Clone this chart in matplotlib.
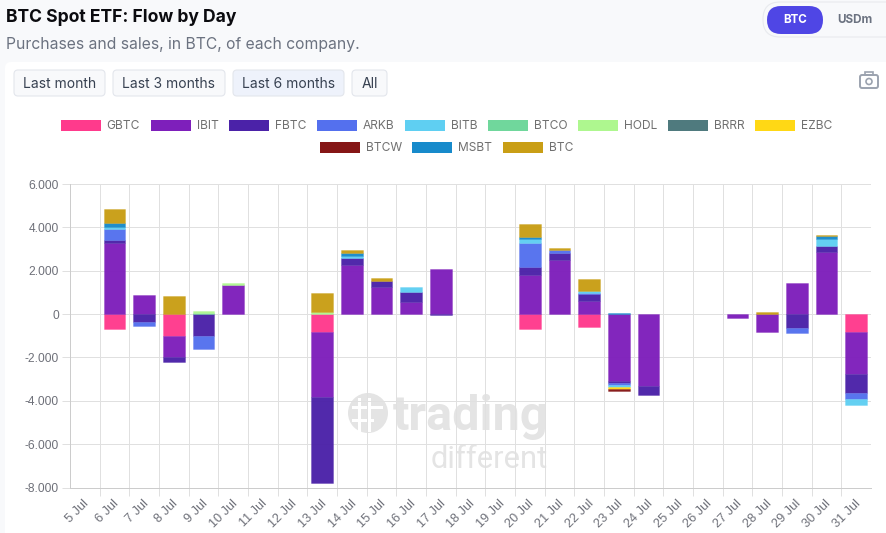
import numpy as np
import matplotlib
matplotlib.use("Agg")
import matplotlib.pyplot as plt
from matplotlib.colors import to_rgba
from matplotlib.patches import Circle, FancyBboxPatch, Patch, Rectangle
from matplotlib.transforms import ScaledTranslation

days = [f"{d} Jul" for d in range(5, 32)]

# flows per day in BTC, 5 Jul .. 31 Jul
GBTC = [0, -710, 0, -1015, 0, 0, 0, 0, -845, 0, 0, 0, 0, 0, 0, -692, 0, -585, 0, 0, 0, 0, 0, 0, 0, 0, -846]
IBIT = [0, 3260, 860, -955, 0, 1354, 0, 0, -3000, 2245, 1230, 540, 2092, 0, 0, 1785, 2477, 585, -3108, -3338, 0, 0, -170, -846, 1430, 2870, -1924]
FBTC = [0, 155, -385, -245, -1000, 0, 0, 0, -3925, 325, 275, 460, -60, 0, 0, 369, 323, 338, -92, -416, 0, 0, 0, 0, -660, 250, -876]
ARKB = [0, 490, -155, 0, -630, 0, 0, 0, 0, 30, 0, 0, 0, 0, 0, 1108, 154, 30, -77, 0, 0, 0, 0, 0, -232, 0, -292]
BITB = [0, 125, 0, 0, 0, 0, 0, 0, 0, 75, 0, 246, 0, 0, 0, 184, 0, 90, -93, 0, 0, 0, 0, 0, 0, 340, -262]
BTCO = [0, 0, 0, 0, 50, 0, 0, 0, 0, 0, 0, 0, 0, 0, 0, 0, 0, 0, 0, 0, 0, 0, 0, 0, 0, 0, 0]
HODL = [0, 0, 0, 0, 75, 60, 0, 0, 90, 0, 0, 0, 0, 0, 0, 0, 0, 0, 0, 0, 0, 0, 0, 0, 0, 0, 0]
BRRR = [0] * 27
EZBC = [0, 0, 0, 0, 0, 0, 0, 0, 0, 0, 0, 0, 0, 0, 0, 0, 0, 0, -90, 0, 0, 0, 0, 0, 0, 0, 0]
BTCW = [0, 0, 0, 0, 0, 0, 0, 0, 0, 0, 0, 0, 0, 0, 0, 0, 0, 0, -80, 0, 0, 0, 0, 0, 0, 0, 0]
MSBT = [0, 155, 0, 0, 0, 0, 0, 0, 0, 155, 0, 0, 0, 0, 0, 92, 0, 0, 60, 0, 0, 0, 0, 0, 0, 135, 0]
BTC = [0, 660, 0, 850, 0, 0, 0, 0, 865, 105, 155, 0, 0, 0, 0, 632, 92, 569, 0, 0, 0, 0, 0, 108, 0, 45, 0]

names = ["GBTC", "IBIT", "FBTC", "ARKB", "BITB", "BTCO", "HODL", "BRRR", "EZBC", "BTCW", "MSBT", "BTC"]
series = [GBTC, IBIT, FBTC, ARKB, BITB, BTCO, HODL, BRRR, EZBC, BTCW, MSBT, BTC]
colors = ["#FF3A8C", "#7E1FBB", "#4B22A8", "#5470EE", "#5FCFF2", "#70D79C",
          "#AEF78F", "#4F7A7E", "#FFD815", "#851616", "#178ACB", "#C99E15"]

W, H = 886, 533
px = 72 / 100  # one pixel in points at dpi 100
plt.rcParams["font.family"] = ["Inter", "DejaVu Sans"]

fig = plt.figure(figsize=(W / 100, H / 100), dpi=100, facecolor="#F8F9FB")

# page furniture, in pixel coordinates
bg = fig.add_axes([0, 0, 1, 1], zorder=0)
bg.set_xlim(0, W)
bg.set_ylim(H, 0)
bg.axis("off")

bg.add_patch(FancyBboxPatch((5, 62), 900, 500, boxstyle="round,pad=0,rounding_size=6",
                            fc="white", ec="none"))
bg.text(6, 17.5, "BTC Spot ETF: Flow by Day", fontsize=12.6, fontweight="bold", color="#0B0B0F", va="center")
bg.text(6, 44, "Purchases and sales, in BTC, of each company.", fontsize=11.3, color="#6B7280", va="center")

# BTC / USDm switch
bg.add_patch(FancyBboxPatch((763, 2), 140, 35, boxstyle="round,pad=0,rounding_size=17",
                            fc="#F8F9FB", ec="#E8EAEE", lw=0.8))
bg.add_patch(FancyBboxPatch((767, 6), 56, 28, boxstyle="round,pad=0,rounding_size=14",
                            fc="#4F46E5", ec="none"))
bg.text(795, 20, "BTC", fontsize=8.4, fontweight="bold", color="white", ha="center", va="center")
bg.text(855, 20, "USDm", fontsize=8.4, fontweight="bold", color="#6B7280", ha="center", va="center")

# range buttons
buttons = [("Last month", 14, 105, False), ("Last 3 months", 113, 225, False),
           ("Last 6 months", 233, 344, True), ("All", 352, 387, False)]
for label, x0, x1, active in buttons:
    bg.add_patch(FancyBboxPatch((x0, 70), x1 - x0, 26, boxstyle="round,pad=0,rounding_size=4",
                                fc="#EEF2FB" if active else "#F8F9FB", ec="#E3E6EC", lw=0.8))
    bg.text((x0 + x1) / 2, 83.5, label, fontsize=10, color="#374151", ha="center", va="center")

# camera icon
bg.add_patch(FancyBboxPatch((860, 75), 18, 13, boxstyle="round,pad=0,rounding_size=2",
                            fc="none", ec="#9CA3AF", lw=1.4))
bg.add_patch(Rectangle((865, 72), 8, 3, fc="none", ec="#9CA3AF", lw=1.2))
bg.add_patch(Circle((869, 81.5), 3, fc="none", ec="#9CA3AF", lw=1.2))

# watermark
wm = "#E4E4E4"
bg.add_patch(Circle((368, 413), 20, fc=wm, ec="none", zorder=1))
bg.add_patch(Rectangle((352, 406), 31, 3, fc="white", ec="none", zorder=1))
bg.add_patch(Rectangle((358, 398), 3, 34, fc="white", ec="none", zorder=1))
bg.add_patch(Rectangle((368, 398), 3, 34, fc="white", ec="none", zorder=1))
bg.add_patch(Rectangle((352, 419), 22, 3, fc="white", ec="none", zorder=1))
bg.text(393, 430, "trading", fontsize=35, fontweight="bold", color=wm, family="Roboto",
        va="baseline", zorder=1)
bg.text(431, 468, "different", fontsize=22.3, color=wm, family="Roboto",
        va="baseline", zorder=1)

# chart
left, right, top, bottom = 70, 871, 184, 487.5
ax = fig.add_axes([left / W, 1 - bottom / H, (right - left) / W, (bottom - top) / H], zorder=2)
ax.patch.set_alpha(0)

x = np.arange(len(days))
pos = np.zeros(len(days))
neg = np.zeros(len(days))
for values, color in zip(series, colors):
    v = np.array(values, dtype=float)
    base = np.where(v > 0, pos, neg)
    on = v != 0
    if on.any():
        ax.bar(x[on], v[on], bottom=base[on], width=0.73, zorder=3,
               facecolor=to_rgba(color, 0.97), edgecolor=to_rgba(color, 0.3), linewidth=px)
    pos += np.where(v > 0, v, 0)
    neg += np.where(v < 0, v, 0)

ax.set_xlim(-0.5, len(days) - 0.5)
ax.set_ylim(-8000, 6000)
yticks = list(range(-8000, 6001, 2000))
ax.set_yticks(yticks)
ax.set_yticklabels([("-" if t < 0 else "") + (f"{abs(t) // 1000}.000" if t else "0") for t in yticks])
ax.set_xticks(x)
ax.set_xticklabels(days)
ax.set_xticks(x[:-1] + 0.5, minor=True)

grid = "#E0E0E0"
ax.grid(True, axis="y", color=grid, lw=px, zorder=1)
ax.grid(True, axis="x", which="minor", color=grid, lw=px, zorder=1)
ax.tick_params(axis="y", length=8 * px, width=px, color=grid, pad=3 * px, labelsize=12 * px,
               labelcolor="#6E7079", labelfontfamily="Liberation Sans")
ax.tick_params(axis="x", which="major", length=0, pad=14 * px, labelsize=12.6 * px,
               labelcolor="#6E7079", labelfontfamily="Liberation Sans")
ax.tick_params(axis="x", which="minor", length=8 * px, width=px, color=grid)
shift = ScaledTranslation(2.5 / 100, 0, fig.dpi_scale_trans)
for lab in ax.get_xticklabels():
    lab.set_rotation(45)
    lab.set_rotation_mode("anchor")
    lab.set_ha("right")
    lab.set_va("center")
    lab.set_transform(lab.get_transform() + shift)

for side in ["top", "right"]:
    ax.spines[side].set_visible(False)
for side in ["left", "bottom"]:
    ax.spines[side].set_color("#CCCCCC")
    ax.spines[side].set_linewidth(px)

# legend, two centred rows
handles = [Patch(facecolor=c, edgecolor="none", label=n) for n, c in zip(names, colors)]
for row, y, rows_n in [(handles[:9], 126, 9), (handles[9:], 148, 3)]:
    fig.legend(handles=row, ncol=rows_n, loc="center", bbox_to_anchor=(446.5 / W, 1 - y / H),
               frameon=False, fontsize=12 * px, labelcolor="#707070",
               handlelength=3.33, handleheight=1.0, handletextpad=0.5, columnspacing=0.88,
               borderpad=0, borderaxespad=0)

fig.savefig("out.png", dpi=100, facecolor=fig.get_facecolor())
